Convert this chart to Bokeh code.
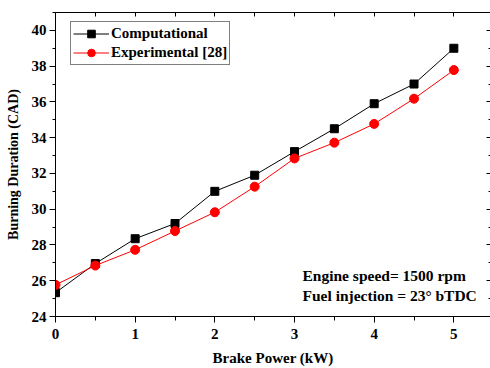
from bokeh.plotting import figure
from bokeh.models import LinearAxis, FixedTicker, Label, Legend
from bokeh.embed import file_html
from bokeh.resources import INLINE

# Brake power (kW) and burning duration (crank angle degrees)
brake_power = [0, 0.5, 1, 1.5, 2, 2.5, 3, 3.5, 4, 4.5, 5]
computational = [25.33, 26.96, 28.35, 29.2, 31.0, 31.9, 33.22, 34.5, 35.9, 37.0, 39.0]
experimental = [25.77, 26.85, 27.73, 28.78, 29.83, 31.26, 32.84, 33.72, 34.77, 36.18, 37.78]

y_ticks = [24, 26, 28, 30, 32, 34, 36, 38, 40]
y_minor = [25, 27, 29, 31, 33, 35, 37, 39, 41]
x_ticks = [0, 1, 2, 3, 4, 5]
x_minor = [0.5, 1.5, 2.5, 3.5, 4.5, 5.5]

FONT = "Liberation Serif"

p = figure(width=490, height=368, output_backend="svg", toolbar_location=None,
           x_range=(0, 5.46), y_range=(24, 41),
           min_border_left=55, min_border_right=0, min_border_top=12, min_border_bottom=50,
           x_axis_location=None, y_axis_location=None)
p.outline_line_color = None
p.grid.visible = False
p.background_fill_color = "white"


def labelled_axis(label, major, minor, minor_out, standoff, label_standoff, label_size):
    ax = LinearAxis(axis_label=label)
    ax.ticker = FixedTicker(ticks=major, minor_ticks=minor)
    ax.major_tick_in = 0
    ax.major_tick_out = 6
    ax.minor_tick_in = 0
    ax.minor_tick_out = minor_out
    ax.major_tick_line_color = "black"
    ax.minor_tick_line_color = "black"
    ax.axis_line_color = "black"
    ax.major_label_text_font = FONT
    ax.major_label_text_font_style = "bold"
    ax.major_label_text_font_size = "15px"
    ax.major_label_text_color = "black"
    ax.major_label_standoff = standoff
    ax.axis_label_text_font = FONT
    ax.axis_label_text_font_style = "bold"
    ax.axis_label_text_font_size = label_size
    ax.axis_label_text_color = "black"
    ax.axis_label_standoff = label_standoff
    return ax


def tick_only_axis(ticks, tick_in, line_color):
    # Unlabelled mirror axis: only minor ticks, so no tick labels are drawn
    ax = LinearAxis()
    ax.ticker = FixedTicker(ticks=[], minor_ticks=ticks)
    ax.major_tick_in = 0
    ax.major_tick_out = 0
    ax.minor_tick_in = tick_in
    ax.minor_tick_out = 0
    ax.minor_tick_line_color = "black"
    ax.axis_line_color = line_color
    ax.major_label_standoff = 0
    return ax


p.add_layout(labelled_axis("Burning Duration (CAD)", y_ticks, y_minor, 3, 3, 8, "14px"), "left")
p.add_layout(labelled_axis("Brake Power (kW)", x_ticks, x_minor, 4, 6, 8, "15px"), "below")

p.add_layout(tick_only_axis(sorted(x_ticks + x_minor), 4, "black"), "above")
p.add_layout(tick_only_axis(y_ticks, 4, None), "right")
p.add_layout(tick_only_axis(y_minor, 2, None), "right")

# Series
c_line = p.line(brake_power, computational, line_color="black", line_width=1)
c_pts = p.scatter(brake_power, computational, marker="square", size=8,
                  fill_color="black", line_color="black")
e_line = p.line(brake_power, experimental, line_color="red", line_width=1)
e_pts = p.scatter(brake_power, experimental, marker="circle", size=9,
                  fill_color="red", line_color="red")

legend = Legend(items=[("Computational", [c_line, c_pts]),
                       ("Experimental [28]", [e_line, e_pts])],
                location=(15, 251))
legend.border_line_color = "black"
legend.border_line_width = 1
legend.background_fill_alpha = 1
legend.padding = 2
legend.margin = 0
legend.spacing = 0
legend.glyph_width = 36
legend.glyph_height = 19
legend.label_height = 19
legend.label_standoff = 2
legend.label_text_font = FONT
legend.label_text_font_style = "bold"
legend.label_text_font_size = "15px"
legend.label_text_color = "black"
p.add_layout(legend, "center")

for txt, yv in [("Engine speed= 1500 rpm", 26.32), ("Fuel injection = 23\u00b0 bTDC", 25.15)]:
    p.add_layout(Label(x=3.1, y=yv, text=txt, text_font=FONT, text_font_style="bold",
                       text_font_size="15.5px", text_color="black", text_baseline="middle"))

open("out.html", "w").write(file_html(p, INLINE))
